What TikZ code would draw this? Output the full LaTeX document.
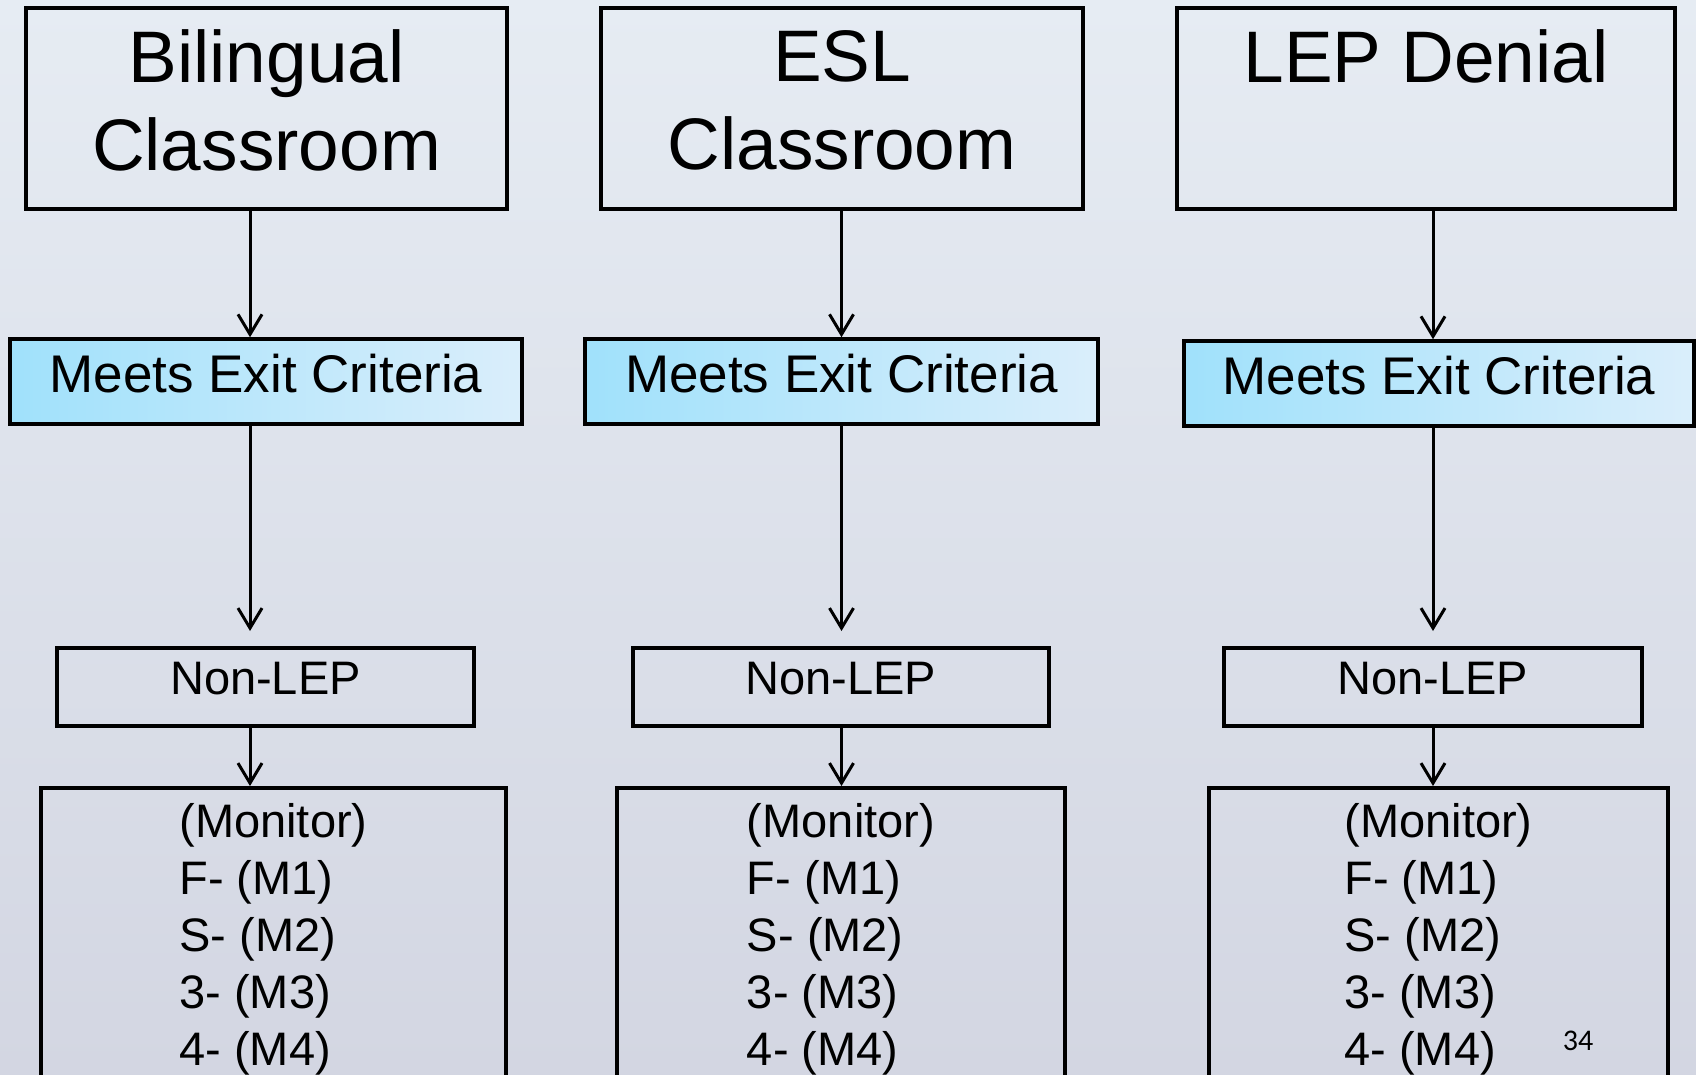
\documentclass[tikz,border=0pt]{standalone}
\usepackage{fontspec}
\setmainfont{Liberation Sans}
\newfontfamily\slidenum{Carlito}
\usetikzlibrary{arrows.meta}

\definecolor{bgtop}{RGB}{230,236,243}
\definecolor{bgbot}{RGB}{211,214,226}
\definecolor{exitleft}{RGB}{160,225,251}
\definecolor{exitright}{RGB}{218,238,251}

\begin{document}
\begin{tikzpicture}[x=1pt, y=-1pt,
    classbox/.style={draw, line width=4pt, minimum width=#1, minimum height=201pt, align=center,
        font=\fontsize{73}{88}\selectfont, text depth=16pt},
    exitbox/.style={draw, line width=3.5pt, left color=exitleft, right color=exitright,
        minimum width=#1, minimum height=85pt, font=\fontsize{53}{64}\selectfont, text depth=16pt},
    leptag/.style={draw, line width=4pt, minimum width=#1, minimum height=78pt,
        font=\fontsize{47}{56}\selectfont, text depth=18pt},
    monbox/.style={draw, line width=4pt, minimum width=#1, anchor=north, align=left, inner ysep=15pt,
        font=\fontsize{47}{57}\selectfont},
    flow/.style={-{Straight Barb[length=20pt,width=24pt]}, line width=3pt}]
    \clip (0, 0) rectangle (1696, 1075);
    \shade [top color=bgtop, bottom color=bgbot] (0, 0) rectangle (1696, 1075);
    % top row
    \node [classbox=481pt] (bil) at (266.5, 108.5) {Bilingual\\Classroom};
    \node [classbox=482pt] (esl) at (842, 108.5) {ESL\\Classroom};
    \node [classbox=498pt, text depth=104pt] (den) at (1426, 108.5) {LEP Denial};
    % exit criteria
    \node [exitbox=512pt] (ex1) at (266, 381.5) {Meets Exit Criteria};
    \node [exitbox=513pt] (ex2) at (841.5, 381.5) {Meets Exit Criteria};
    \node [exitbox=510pt] (ex3) at (1439, 383.5) {Meets Exit Criteria};
    % non-LEP
    \node [leptag=417pt] (nl1) at (265.5, 687) {Non-LEP};
    \node [leptag=416pt] (nl2) at (841, 687) {Non-LEP};
    \node [leptag=418pt] (nl3) at (1433, 687) {Non-LEP};
    % monitor boxes
    \node [monbox=465pt] (mo1) at (273.5, 786) {(Monitor)\\F- (M1)\\S- (M2)\\3- (M3)\\4- (M4)};
    \node [monbox=448pt] (mo2) at (841, 786) {(Monitor)\\F- (M1)\\S- (M2)\\3- (M3)\\4- (M4)};
    \node [monbox=459pt] (mo3) at (1438.5, 786) {(Monitor)\\F- (M1)\\S- (M2)\\3- (M3)\\4- (M4)};
    \node [font=\slidenum\fontsize{30}{36}\selectfont] (pg) at (1578, 1041) {34};
    % arrows
    \coordinate (a1) at (250, 0);
    \coordinate (a2) at (841.5, 0);
    \coordinate (a3) at (1433, 0);
    \draw [flow] (bil.south -| a1)--(ex1.north -| a1);
    \draw [flow] (esl.south -| a2)--(ex2.north -| a2);
    \draw [flow] (den.south -| a3)--(ex3.north -| a3);
    \draw [flow, shorten >=15pt] (ex1.south -| a1)--(nl1.north -| a1);
    \draw [flow, shorten >=15pt] (ex2.south -| a2)--(nl2.north -| a2);
    \draw [flow, shorten >=15pt] (ex3.south -| a3)--(nl3.north -| a3);
    \draw [flow] (nl1.south -| a1)--(mo1.north -| a1);
    \draw [flow] (nl2.south -| a2)--(mo2.north -| a2);
    \draw [flow] (nl3.south -| a3)--(mo3.north -| a3);
\end{tikzpicture}
\end{document}
